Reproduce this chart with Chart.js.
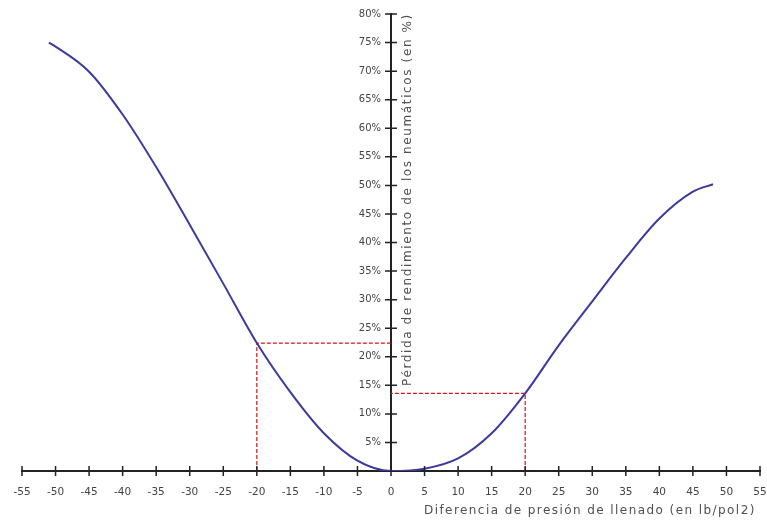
<!DOCTYPE html>
<html>
<head>
<meta charset="utf-8">
<script src="https://cdn.jsdelivr.net/npm/chart.js@4.4.1/dist/chart.umd.min.js"></script>
<style>
    html, body { margin: 0; padding: 0; background: #fff; }
    #wrap { width: 767px; height: 523px; position: relative; }
</style>
</head>
<body>
<div id="wrap"><canvas id="myChart"></canvas></div>
<script>
// Values
const pressureDiff    = [-51, -50, -45, -40, -35, -30, -25, -20, -15, -10, -5, 0, 5, 10, 15, 20, 25, 30, 35, 40, 45, 48];
const performanceLoss = [75, 74.3, 69.9, 62.4, 53.2, 43.1, 32.8, 22.4, 13.8, 6.6, 1.8, 0, 0.4, 2.2, 6.6, 13.6, 22.0, 29.7, 37.3, 44.2, 48.9, 50.2];

// red dashed guide lines (pressure, loss)
const markerX = [-20, 20];
const markerY = [22.4, 13.6];

const xTickValues = [-55, -50, -45, -40, -35, -30, -25, -20, -15, -10, -5, 0, 5, 10, 15, 20, 25, 30, 35, 40, 45, 50, 55];
const yTickValues = [0, 5, 10, 15, 20, 25, 30, 35, 40, 45, 50, 55, 60, 65, 70, 75, 80];

const xTitle = 'Diferencia de presión de llenado (en lb/pol2)';
const yTitle = 'Pérdida de rendimiento de los neumáticos (en %)';

const FONT = '"DejaVu Sans", Verdana, sans-serif';

function fitText(ctx, text, width) {
    // spread the letters to reach the width of the original label
    ctx.letterSpacing = '0px';
    const w = ctx.measureText(text).width;
    ctx.letterSpacing = ((width - w) / text.length).toFixed(2) + 'px';
}

// cross shaped tick marks, y labels and the two axis titles
const axisDecor = {
    id: 'axisDecor',
    afterDraw(chart) {
        const ctx = chart.ctx;
        const xs = chart.scales.x, ys = chart.scales.y;
        const x0 = xs.getPixelForValue(0), y0 = ys.getPixelForValue(0);
        ctx.save();
        ctx.strokeStyle = '#222';
        ctx.lineWidth = 1.5;
        ctx.beginPath();
        xs.ticks.forEach(t => {
            const px = xs.getPixelForValue(t.value);
            ctx.moveTo(px, y0 - 5);
            ctx.lineTo(px, y0 + 5);
        });
        ys.ticks.forEach(t => {
            if (t.value === 0) return;
            const py = ys.getPixelForValue(t.value);
            ctx.moveTo(x0 - 6, py);
            ctx.lineTo(x0 + 6, py);
        });
        ctx.stroke();

        // y tick labels, to the left of the axis
        ctx.fillStyle = '#444';
        ctx.font = '10px ' + FONT;
        ctx.textAlign = 'right';
        ctx.textBaseline = 'middle';
        ys.ticks.forEach(t => {
            if (t.value === 0) return;
            ctx.fillText(t.value + '%', x0 - 10, ys.getPixelForValue(t.value));
        });

        ctx.fillStyle = '#505050';
        ctx.font = '12px ' + FONT;
        ctx.textAlign = 'left';
        fitText(ctx, xTitle, 332);
        ctx.fillText(xTitle, 424, 511);

        ctx.translate(408, 386);
        ctx.rotate(-Math.PI / 2);
        fitText(ctx, yTitle, 373);
        ctx.fillText(yTitle, 0, 0);
        ctx.restore();
    }
};

let curve = pressureDiff.map((x, i) => ({ x: x, y: performanceLoss[i] }));

let datasets = [{
    data: curve,
    borderColor: '#3c3a9c',
    borderWidth: 2,
    pointRadius: 0,
    cubicInterpolationMode: 'monotone',
    fill: false
}];

for (let i = 0; i < markerX.length; i++) {
    datasets.push({
        data: [
            { x: markerX[i], y: 0 },
            { x: markerX[i], y: markerY[i] },
            { x: 0, y: markerY[i] }
        ],
        borderColor: '#d01818',
        borderWidth: 1.2,
        borderDash: [4, 2],
        pointRadius: 0,
        tension: 0,
        fill: false
    });
}

let ctx = document.getElementById('myChart').getContext('2d');
let myChart = new Chart(ctx, {
    type: 'line',
    data: { datasets: datasets },
    options: {
        responsive: true,
        maintainAspectRatio: false,
        animation: false,
        layout: {
            padding: { left: 22, right: 7, top: 14, bottom: 52 }
        },
        plugins: {
            legend: { display: false },
            tooltip: { enabled: false }
        },
        scales: {
            x: {
                type: 'linear',
                position: { y: 0 },
                min: -55,
                max: 55,
                afterBuildTicks: scale => {
                    scale.ticks = xTickValues.map(v => ({ value: v }));
                },
                afterFit: scale => {
                    scale.height = 0;
                    scale.paddingLeft = 0;
                    scale.paddingRight = 0;
                },
                grid: { display: false },
                border: { display: true, color: '#222', width: 2 },
                ticks: {
                    padding: 7,
                    autoSkip: false,
                    maxRotation: 0,
                    color: '#444',
                    font: { family: FONT, size: 10.5 }
                }
            },
            y: {
                type: 'linear',
                position: { x: 0 },
                min: 0,
                max: 80,
                afterBuildTicks: scale => {
                    scale.ticks = yTickValues.map(v => ({ value: v }));
                },
                afterFit: scale => {
                    scale.width = 0;
                    scale.paddingTop = 0;
                    scale.paddingBottom = 0;
                },
                grid: { display: false },
                border: { display: true, color: '#222', width: 2 },
                ticks: { display: false }
            }
        }
    },
    plugins: [axisDecor]
});
</script>
</body>
</html>
